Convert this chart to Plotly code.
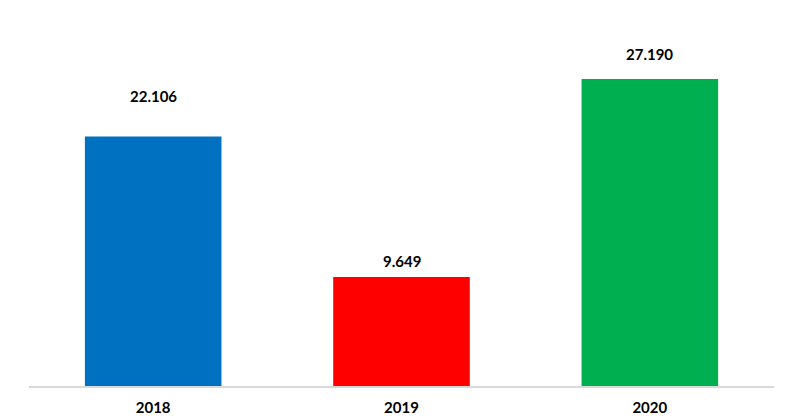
import plotly.graph_objects as go

categories = ["2018", "2019", "2020"]
values = [22106, 9649, 27190]
value_labels = ["22.106", "9.649", "27.190"]
bar_colors = ["#0070C0", "#FF0000", "#00B050"]
label_offsets = [29, 5, 14]  # pixel offsets of the value labels above the bars

fig = go.Figure()
fig.add_trace(go.Bar(
    x=categories, y=values, marker=dict(color=bar_colors, line=dict(width=0)),
    width=0.55, hoverinfo="skip",
))
for i, (v, t, o) in enumerate(zip(values, value_labels, label_offsets)):
    fig.add_annotation(x=i, y=v, xref="x", yref="y", text="<b>%s</b>" % t,
                       showarrow=False, yanchor="bottom", yshift=o,
                       font=dict(family="Lato", size=15, color="#000000"))

fig.update_layout(
    width=800, height=419,
    margin=dict(l=29, r=26, t=10, b=33),
    paper_bgcolor="white", plot_bgcolor="white",
    showlegend=False,
    font=dict(family="Lato", size=15, color="#000000"),
    xaxis=dict(type="category", categoryorder="array", categoryarray=categories,
               range=[-0.5, len(categories) - 0.5], automargin=False,
               showline=True, linecolor="#D9D9D9", linewidth=1.5,
               showgrid=False, ticks="outside", ticklen=7, tickcolor="rgba(0,0,0,0)",
               tickfont=dict(family="Lato", size=15, color="#000000", weight="bold")),
    yaxis=dict(visible=False, range=[0, 33300], showgrid=False, zeroline=False),
)
fig.write_html("out.html")
